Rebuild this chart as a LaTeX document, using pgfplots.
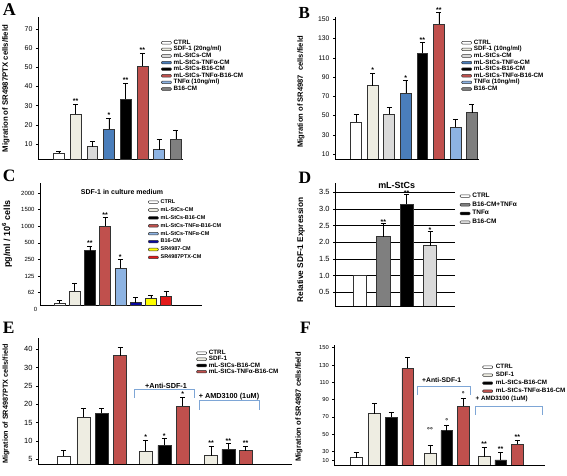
\documentclass[border=0pt]{standalone}
\usepackage{pgfplots}
\pgfplotsset{compat=1.18}
\usepackage{fontspec}
\setmainfont{Liberation Sans}
\newfontfamily\lserif{Liberation Serif}
\newcommand{\fs}[1]{\fontsize{#1}{#1}\selectfont}
\definecolor{beige}{HTML}{EEEDE2}
\definecolor{lgray}{HTML}{DADADA}
\definecolor{mblue}{HTML}{4A7EBB}
\definecolor{mred}{HTML}{C0504D}
\definecolor{lblue}{HTML}{8DB3E2}
\definecolor{mgray}{HTML}{7F7F7F}
\definecolor{navy}{HTML}{0A0AA0}
\definecolor{yel}{HTML}{FFFF00}
\definecolor{bred}{HTML}{E41A1A}
\definecolor{brk}{HTML}{7EA6D6}
\definecolor{edge}{HTML}{333333}
\pgfplotsset{
  panel/.style={
    scale only axis, clip mode=individual, anchor=south west,
    axis x line*=bottom, axis y line*=left,
    xtick=\empty,
    tick align=outside, major tick length=2bp,
    tick style={black, line width=0.5bp},
    axis line style={black, line width=0.7bp},
    every axis plot/.append style={ybar, bar shift=0pt, draw=edge, line width=0.6bp},
    legend image code/.code={\draw[##1, line width=0.5bp, rounded corners=0.9bp] (0bp,-1.3bp) rectangle (10bp,1.3bp);},
    legend cell align=left,
  },
  eb/.style={error bars/y dir=plus, error bars/y explicit,
     error bars/error bar style={black, line width=0.5bp},
     error bars/error mark options={rotate=90, black, mark size=2.5bp, line width=0.5bp}},
}
\begin{document}
\begin{tikzpicture}[x=1bp, y=1bp]
\path[use as bounding box] (0bp,0bp) rectangle (567bp,476bp);

% ---------------- A ----------------
\begin{axis}[panel, at={(38bp,316.7bp)}, width=145bp, height=142.3bp,
  xmin=-1.25, xmax=7.43, ymin=2, ymax=76.3,
  ytick={10,20,30,40,50,60,70}, yticklabels={10,20,30,40,50,60,70},
  yticklabel style={font=\fs{7}},
  bar width=0.65,
  legend style={at={(0.8276,0.8545)}, anchor=north west, draw=none, fill=none, font=\fs{6.3}\bfseries, row sep=0.8bp, nodes={inner sep=0pt, inner xsep=2bp, text height=4.5bp, text depth=1.3bp}},
  legend entries={CTRL, SDF-1 (20ng/ml), mL-StCs-CM, mL-StCs-TNFα-CM, mL-StCs-B16-CM, mL-StCs-TNFα-B16-CM, TNFα (10ng/ml), B16-CM}]
\addplot[fill=white, eb] coordinates {(0,5.1) +- (0,1.2)};
\addplot[fill=beige, eb] coordinates {(1,25.5) +- (0,5.2)};
\addplot[fill=lgray, eb] coordinates {(2,8.6) +- (0,2.6)};
\addplot[fill=mblue, eb] coordinates {(3,17.6) +- (0,5.8)};
\addplot[fill=black, eb] coordinates {(4,33.3) +- (0,8.4)};
\addplot[fill=mred, eb] coordinates {(5,50.7) +- (0,6.9)};
\addplot[fill=lblue, eb] coordinates {(6,7.0) +- (0,5.4)};
\addplot[fill=mgray, eb] coordinates {(7,12.4) +- (0,4.9)};
\node[font=\fs{7}\bfseries, anchor=base] at (axis cs:1,30.9) {**};
\node[font=\fs{7}\bfseries, anchor=base] at (axis cs:3,23.6) {*};
\node[font=\fs{7}\bfseries, anchor=base] at (axis cs:4,41.9) {**};
\node[font=\fs{7}\bfseries, anchor=base] at (axis cs:5,57.8) {**};
\end{axis}

% ---------------- B ----------------
\begin{axis}[panel, at={(335bp,317bp)}, width=144bp, height=149.3bp,
  xmin=-1.28, xmax=7.43, ymin=4.8, ymax=160,
  y axis line style={draw=none},
  ytick={10,30,50,70,90,110,130,150}, yticklabels={10,30,50,70,90,110,130,150},
  yticklabel style={font=\fs{6.8}},
  bar width=0.66,
  legend style={at={(0.856,0.8125)}, anchor=north west, draw=none, fill=none, font=\fs{6.3}\bfseries, row sep=0.8bp, nodes={inner sep=0pt, inner xsep=2bp, text height=4.5bp, text depth=1.3bp}},
  legend entries={CTRL, SDF-1 (10ng/ml), mL-StCs-CM, mL-StCs-TNFα-CM, mL-StCs-B16-CM, mL-StCs-TNFα-B16-CM, TNFα (10ng/ml), B16-CM}]
\addplot[fill=white, eb] coordinates {(0,43) +- (0,8.3)};
\addplot[fill=beige, eb] coordinates {(1,81) +- (0,12.9)};
\addplot[fill=lgray, eb] coordinates {(2,51.3) +- (0,7.2)};
\addplot[fill=mblue, eb] coordinates {(3,73.1) +- (0,13.1)};
\addplot[fill=black, eb] coordinates {(4,114.7) +- (0,11)};
\addplot[fill=mred, eb] coordinates {(5,145.1) +- (0,11.8)};
\addplot[fill=lblue, eb] coordinates {(6,38) +- (0,8.3)};
\addplot[fill=mgray, eb] coordinates {(7,53) +- (0,9.2)};
\node[font=\fs{7}\bfseries, anchor=base] at (axis cs:1,94.3) {*};
\node[font=\fs{7}\bfseries, anchor=base] at (axis cs:3,86.6) {*};
\node[font=\fs{7}\bfseries, anchor=base] at (axis cs:4,126.1) {**};
\node[font=\fs{7}\bfseries, anchor=base] at (axis cs:5,157.3) {**};
\end{axis}
\draw[black, line width=0.7bp] (335bp,317bp) -- (335bp,459.3bp);

% ---------------- C ----------------
\begin{axis}[panel, at={(40bp,170.3bp)}, width=161.7bp, height=122.4bp,
  xmin=-1.27, xmax=9.34, ymin=0.22, ymax=7.59,
  ytick={1,2,3,4,5,6,7}, yticklabels={62,125,250,500,1000,1500,2000},
  yticklabel style={font=\fs{6}},
  bar width=0.72,
  legend style={at={(0.649,0.888)}, anchor=north west, draw=none, fill=none, font=\fs{5.5}\bfseries, row sep=2.1bp, nodes={inner sep=0pt, inner xsep=2bp, text height=4.3bp, text depth=1.5bp}},
  legend entries={CTRL, mL-StCs-CM, mL-StCs-B16-CM, mL-StCs-TNFα-B16-CM, mL-StCs-TNFα-CM, B16-CM, SR4987-CM, SR4987PTX-CM}]
\addplot[fill=white, eb] coordinates {(0,0.36) +- (0,0.16)};
\addplot[fill=beige, eb] coordinates {(1,1.1) +- (0,0.5)};
\addplot[fill=black, eb] coordinates {(2,3.53) +- (0,0.28)};
\addplot[fill=mred, eb] coordinates {(3,5.02) +- (0,0.52)};
\addplot[fill=lblue, eb] coordinates {(4,2.47) +- (0,0.54)};
\addplot[fill=navy, eb] coordinates {(5,0.4) +- (0,0.32)};
\addplot[fill=yel, eb] coordinates {(6,0.66) +- (0,0.2)};
\addplot[fill=bred, eb] coordinates {(7,0.8) +- (0,0.32)};
\node[font=\fs{7}\bfseries, anchor=base] at (axis cs:2,3.83) {**};
\node[font=\fs{7}\bfseries, anchor=base] at (axis cs:3,5.56) {**};
\node[font=\fs{7}\bfseries, anchor=base] at (axis cs:4,3.03) {*};
\node[font=\fs{6}, anchor=east, inner sep=2.5bp] at (axis cs:-1.27,0) {0};
\end{axis}
\node[font=\fs{7}\bfseries] at (122bp,284bp) {SDF-1 in culture medium};

% ---------------- D ----------------
\begin{axis}[panel, at={(335bp,170bp)}, width=120bp, height=123.3bp,
  xmin=-1.07, xmax=4.07, ymin=0.09, ymax=3.79,
  ytick={0.5,1,1.5,2,2.5,3,3.5}, yticklabels={0.5,1.0,1.5,2.0,2.5,3.0,3.5},
  yticklabel style={font=\fs{7.5}},
  ymajorgrids, grid style={black, line width=0.6bp},
  bar width=0.56,
  legend style={at={(1.014,0.933)}, anchor=north west, draw=none, fill=none, font=\fs{6.5}\bfseries, row sep=2.9bp, nodes={inner sep=0pt, inner xsep=2bp, text height=4.3bp, text depth=1.5bp}},
  legend entries={CTRL, B16-CM+TNFα, TNFα, B16-CM}]
\addplot[fill=white] coordinates {(0,1.0)};
\addplot[fill=mgray, eb] coordinates {(1,2.17) +- (0,0.4)};
\addplot[fill=black, eb] coordinates {(2,3.14) +- (0,0.31)};
\addplot[fill=lgray, eb] coordinates {(3,1.9) +- (0,0.44)};
\node[font=\fs{7}\bfseries, anchor=base] at (axis cs:1,2.55) {**};
\node[font=\fs{7}\bfseries, anchor=base] at (axis cs:2,3.4) {**};
\node[font=\fs{7}\bfseries, anchor=base] at (axis cs:3,2.3) {*};
\end{axis}
\node[font=\fs{9}\bfseries] at (396.7bp,291bp) {mL-StCs};

% ---------------- E ----------------
\begin{axis}[panel, at={(38bp,12bp)}, width=254bp, height=125.7bp,
  xmin=38, xmax=292, ymin=3.73, ymax=38,
  ytick={5,10,15,20,25,30,35}, yticklabels={5,10,15,20,25,30,40},
  yticklabel style={font=\fs{7.5}},
  bar width=13,
  legend style={at={(0.611,0.923)}, anchor=north west, draw=none, fill=none, font=\fs{6.3}\bfseries, row sep=0.4bp, nodes={inner sep=0pt, inner xsep=2bp, text height=4.5bp, text depth=1.3bp}},
  legend entries={CTRL, SDF-1, mL-StCs-B16-CM, mL-StCs-TNFα-B16-CM}]
\addplot[fill=white, eb] coordinates {(63.3,5.9) +- (0,1.5)};
\addplot[fill=beige, eb] coordinates {(83.3,16.5) +- (0,2.4) (145.7,7.2) +- (0,3.1) (211,6.0) +- (0,2.6)};
\addplot[fill=black, eb] coordinates {(101.7,17.5) +- (0,1.4) (164.3,8.8) +- (0,1.9) (228.3,7.7) +- (0,1.6)};
\addplot[fill=mred, eb] coordinates {(120,33.3) +- (0,2.2) (182.7,19.5) +- (0,2.4) (245.7,7.4) +- (0,1.2)};
\node[font=\fs{7}\bfseries, anchor=base] at (axis cs:145.7,10.4) {*};
\node[font=\fs{7}\bfseries, anchor=base] at (axis cs:164.3,10.8) {*};
\node[font=\fs{7}\bfseries, anchor=base] at (axis cs:182.7,22.0) {*};
\node[font=\fs{7}\bfseries, anchor=base] at (axis cs:211,8.7) {**};
\node[font=\fs{7}\bfseries, anchor=base] at (axis cs:228.3,9.4) {**};
\node[font=\fs{7}\bfseries, anchor=base] at (axis cs:245.7,8.7) {**};
\end{axis}
\draw[brk, line width=0.8bp] (134bp,78bp) -- (134bp,87bp) -- (194bp,87bp) -- (194bp,78bp);
\node[font=\fs{7.3}\bfseries, anchor=south, inner sep=0.6bp] at (166bp,87bp) {+Anti-SDF-1};
\draw[brk, line width=0.8bp] (199bp,66bp) -- (199bp,75.3bp) -- (259bp,75.3bp) -- (259bp,66bp);
\node[font=\fs{7.3}\bfseries, anchor=south, inner sep=0.6bp] at (229bp,75.3bp) {+ AMD3100 (1uM)};

% ---------------- F ----------------
\begin{axis}[panel, at={(334.3bp,11bp)}, width=210.7bp, height=120bp,
  xmin=334.3, xmax=545, ymin=14.6, ymax=153.1,
  ytick={19.6,30,50,70,90,110,130,150}, yticklabels={10,30,50,70,90,110,130,150},
  yticklabel style={font=\fs{5.8}},
  bar width=11.7,
  legend style={at={(0.688,0.858)}, anchor=north west, draw=none, fill=none, font=\fs{6.3}\bfseries, row sep=2.2bp, nodes={inner sep=0pt, inner xsep=3bp, text height=4.5bp, text depth=1.3bp}},
  legend entries={CTRL, SDF-1, mL-StCs-B16-CM, mL-StCs-TNFα-B16-CM}]
\addplot[fill=white, eb] coordinates {(356,23.1) +- (0,5.7)};
\addplot[fill=beige, eb] coordinates {(374.3,73.8) +- (0,11.6) (430,28.1) +- (0,9.6) (484,24.2) +- (0,10.4)};
\addplot[fill=black, eb] coordinates {(391,69.6) +- (0,6.2) (446.7,54.2) +- (0,6.6) (500.7,20.4) +- (0,8.8)};
\addplot[fill=mred, eb] coordinates {(407.7,126.2) +- (0,12.6) (463.3,82.3) +- (0,9.2) (517.3,38.8) +- (0,4.7)};
\node[font=\fs{7}\bfseries, anchor=base] at (axis cs:430,52) {°°};
\node[font=\fs{7}\bfseries, anchor=base] at (axis cs:446.7,62.8) {°};
\node[font=\fs{7}\bfseries, anchor=base] at (axis cs:463.3,93.5) {°};
\node[font=\fs{7}\bfseries, anchor=base] at (axis cs:484,36) {**};
\node[font=\fs{7}\bfseries, anchor=base] at (axis cs:500.7,30.5) {**};
\node[font=\fs{7}\bfseries, anchor=base] at (axis cs:517.3,44) {**};
\end{axis}
\draw[brk, line width=0.8bp] (417.7bp,81bp) -- (417.7bp,89.3bp) -- (470bp,89.3bp) -- (470bp,81bp);
\node[font=\fs{6.8}\bfseries] at (441.7bp,96bp) {+Anti-SDF-1};
\draw[brk, line width=0.8bp] (475bp,61bp) -- (475bp,69.3bp) -- (542.7bp,69.3bp) -- (542.7bp,61bp);
\node[font=\fs{6.3}\bfseries] at (501.7bp,77bp) {+ AMD3100 (1uM)};

% ---------------- axis titles ----------------
\node[rotate=90, font=\fs{7.8}\bfseries] at (6bp,387.5bp) {Migration of SR4987PTX cells/field};
\node[rotate=90, font=\fs{7.6}\bfseries] at (301bp,384bp) {Migration of SR4987\ \ cells/field};
\node[rotate=90, font=\fs{9}\bfseries] at (7bp,242bp) {pg/ml / 10\textsuperscript{6} cells};
\node[rotate=90, font=\fs{8.3}\bfseries] at (301bp,226bp) {Relative SDF-1 Expression};
\node[rotate=90, font=\fs{7.3}\bfseries] at (6bp,72bp) {Migration of SR4987PTX cells/field};
\node[rotate=90, font=\fs{7.6}\bfseries] at (299bp,69bp) {Migration of SR4987 cells/field};

% ---------------- panel letters ----------------
\node[font=\lserif\bfseries\fs{18}, anchor=base west, inner sep=0pt] at (2.7bp,460bp) {A};
\node[font=\lserif\bfseries\fs{17}, anchor=base west, inner sep=0pt] at (298.3bp,457.7bp) {B};
\node[font=\lserif\bfseries\fs{17.5}, anchor=base west, inner sep=0pt] at (2.7bp,294.3bp) {C};
\node[font=\lserif\bfseries\fs{17.5}, anchor=base west, inner sep=0pt] at (298.3bp,292.7bp) {D};
\node[font=\lserif\bfseries\fs{17.5}, anchor=base west, inner sep=0pt] at (2.7bp,142.7bp) {E};
\node[font=\lserif\bfseries\fs{17.5}, anchor=base west, inner sep=0pt] at (300bp,142.7bp) {F};
\end{tikzpicture}
\end{document}
